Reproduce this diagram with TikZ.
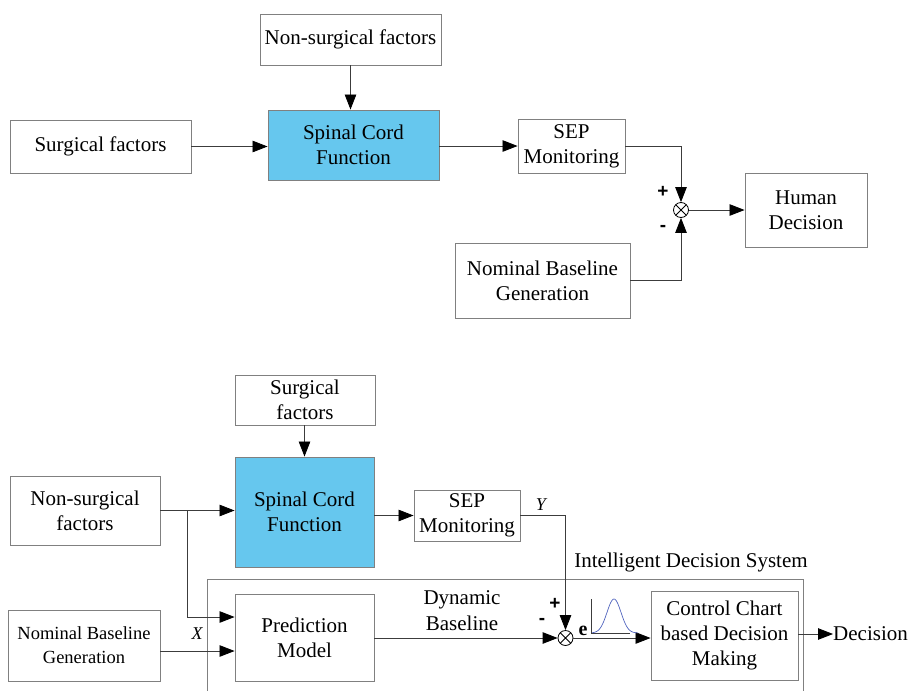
\documentclass[tikz,border=0pt]{standalone}
\usepackage{fontspec}
\setmainfont{Liberation Serif}
\newfontfamily\signfont{Liberation Sans}
\usetikzlibrary{arrows.meta,calc}
\definecolor{cordblue}{RGB}{102,199,238}
\definecolor{boxgray}{RGB}{128,128,128}
\definecolor{linegray}{RGB}{60,60,60}
\definecolor{gaussblue}{RGB}{80,100,190}
\begin{document}
\begin{tikzpicture}[x=1pt,y=-1pt,
  box/.style={draw=boxgray,line width=0.9pt,align=center,inner sep=0pt,font=\fontsize{21}{25}\selectfont},
  bluebox/.style={box,fill=cordblue},
  wire/.style={draw=linegray,line width=0.8pt},
  arr/.style={wire,-{Triangle[length=15pt,width=11.5pt,color=black]}},
  lbl/.style={inner sep=0pt,font=\fontsize{21}{26}\selectfont,align=center},
  sign/.style={inner sep=0pt,font=\signfont\bfseries\fontsize{19}{19}\selectfont},
  sumnode/.style={circle,draw=black,fill=white,line width=0.8pt,minimum size=15pt,inner sep=0pt,
    path picture={\draw[line width=0.8pt] (path picture bounding box.north west)--(path picture bounding box.south east)
      (path picture bounding box.north east)--(path picture bounding box.south west);}}
]
\useasboundingbox (0,0) rectangle (911,691);

% ---------- top diagram ----------
\node[box,minimum width=181pt,minimum height=51pt] (ns1) at (350.5,39.5) {Non-surgical factors};
\node[box,minimum width=181pt,minimum height=53pt] (s1) at (100.5,146.5) {Surgical factors};
\node[bluebox,minimum width=171pt,minimum height=70pt] (sc1) at (353.5,145) {Spinal Cord\\Function};
\node[box,minimum width=107pt,minimum height=54pt] (sep1) at (571.5,146) {SEP\\Monitoring};
\node[sumnode] (sum1) at (681,210) {};
\node[box,minimum width=175pt,minimum height=75pt] (nb1) at (542.5,280.5) {Nominal Baseline\\Generation};
\node[box,minimum width=122pt,minimum height=74pt] (hd1) at (806,210) {Human\\Decision};
\node[sign] (p1) at (663,192) {+};
\node[sign] (m1) at (663,228) {-};

\draw[arr] (ns1.south) -- (ns1.south |- sc1.north);
\draw[arr] (s1.east) -- (s1.east -| sc1.west);
\draw[arr] (sc1.east |- sep1.west) -- (sep1.west);
\draw[arr] (sep1.east) -| (sum1.north);
\draw[arr] (nb1.east) -| (sum1.south);
\draw[arr] (sum1.east) -- (hd1.west);

% ---------- bottom diagram ----------
\draw[draw=boxgray,line width=0.9pt] (207,691) -- (207,579) -- (803,579) -- (803,691);
\node[lbl] (ids) at (691,562) {Intelligent Decision System};

\node[box,minimum width=140pt,minimum height=50pt] (s2) at (305,400) {Surgical\\factors};
\node[bluebox,minimum width=139pt,minimum height=110pt] (sc2) at (304.5,512) {Spinal Cord\\Function};
\node[box,minimum width=150pt,minimum height=69pt] (ns2) at (85,510.5) {Non-surgical\\factors};
\node[box,minimum width=139pt,minimum height=87pt,fill=white] (pm) at (304.5,637.5) {Prediction\\Model};
\node[box,minimum width=152pt,minimum height=71pt,font=\fontsize{18.5}{24}\selectfont] (nb2) at (84,645.5) {Nominal Baseline\\Generation};
\node[box,minimum width=106pt,minimum height=51pt] (sep2) at (467,515.5) {SEP\\Monitoring};
\node[sumnode] (sum2) at (565.5,638) {};
\node[box,minimum width=147pt,minimum height=89pt,fill=white] (cc) at (724.5,635.5) {Control Chart\\based Decision\\Making};
\node[lbl,anchor=west] (dec) at (833,634) {Decision};

\node[lbl] (dyn) at (462,611) {Dynamic\\Baseline};
\node[lbl,font=\itshape\fontsize{18}{18}\selectfont] (ylab) at (541,505) {Y};
\node[lbl,font=\itshape\fontsize{18}{18}\selectfont] (xlab) at (197,634) {X};
\node[lbl,font=\bfseries\fontsize{20}{20}\selectfont] (elab) at (583,631) {e};
\node[sign] (p2) at (555,604) {+};
\node[sign] (m2) at (542,621) {-};

\coordinate (br) at (187,510.5);
\coordinate (nbout) at ($(nb2.east)+(0,5.5)$);
\draw[arr] (s2.south -| sc2.north) -- (sc2.north);
\draw[arr] (ns2.east) -- (ns2.east -| sc2.west);
\draw[arr] (br) |- ($(pm.west)+(0,-20.5)$);
\draw[arr] (nbout) -- (nbout -| pm.west);
\draw[arr] (sc2.east |- sep2.west) -- (sep2.west);
\draw[arr] (sep2.east) -| (sum2.north);
\draw[arr] (pm.east |- sum2.west) -- (sum2.west);
\draw[arr] (sum2.east) -- (sum2.east -| cc.west);
\draw[arr] (cc.east |- dec.west) -- (dec.west);

% gaussian inset
\coordinate (gorig) at (591,633);
\draw[draw=linegray,line width=0.6pt] (591,599) -- (gorig) -- (630,633);
\draw[gaussblue,line width=0.7pt] plot[domain=592:638,samples=60,smooth] (\x,{633-34*exp(-((\x-614)*(\x-614))/(2*49))});
\end{tikzpicture}
\end{document}
